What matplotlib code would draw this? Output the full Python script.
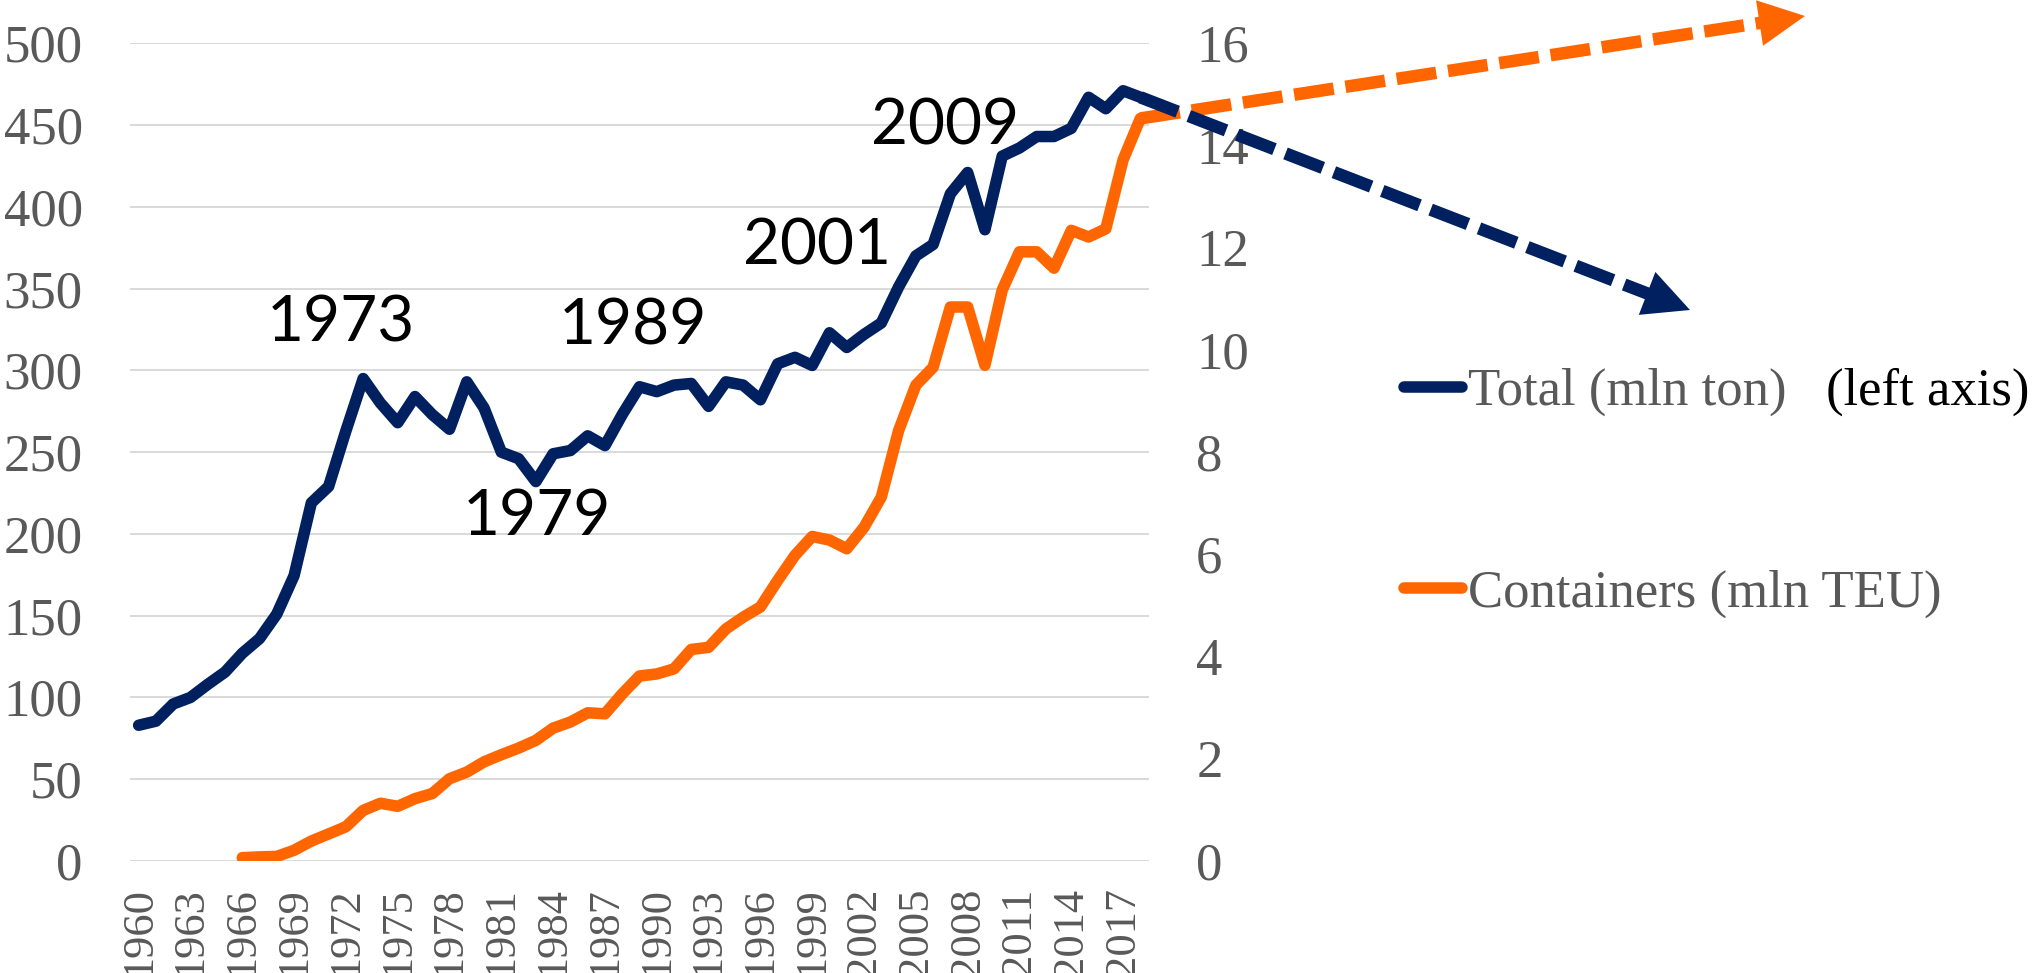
import numpy as np
import matplotlib
matplotlib.use("Agg")
import matplotlib.pyplot as plt
from matplotlib.lines import Line2D
from matplotlib.patches import Polygon
from matplotlib.transforms import IdentityTransform

# ---------------- data ----------------
years_total = list(range(1960, 2019))
total_mln_ton = [83, 85.5, 96, 100, 108, 115.5, 127, 136, 151, 174.5,
                 219, 229, 263, 295, 280, 268, 284, 273, 264, 293,
                 277, 250, 246, 232, 249, 251, 260, 254, 273, 290,
                 287, 291, 292, 278, 293, 291, 282, 304, 308, 303,
                 323, 314, 322, 329, 351, 370, 377, 408, 421, 386,
                 431, 436, 443, 443, 448, 467, 460, 471, 467]

years_cont = list(range(1966, 2019))
containers_mln_teu = [0.065, 0.08, 0.09, 0.21, 0.39, 0.53, 0.67, 0.99, 1.13, 1.07,
                      1.22, 1.32, 1.61, 1.74, 1.94, 2.08, 2.21, 2.36, 2.60, 2.72,
                      2.90, 2.88, 3.27, 3.62, 3.66, 3.76, 4.14, 4.18, 4.54, 4.77,
                      4.97, 5.49, 5.98, 6.35, 6.28, 6.11, 6.53, 7.12, 8.42, 9.31,
                      9.66, 10.84, 10.84, 9.70, 11.17, 11.92, 11.92, 11.60, 12.34, 12.21,
                      12.37, 13.72, 14.53]

xtick_years = list(range(1960, 2018, 3))
left_ticks = list(range(0, 501, 50))
right_ticks = list(range(0, 17, 2))

event_labels = ["1973", "1979", "1989", "2001", "2009"]

series_labels = ["Total (mln ton)", "Containers (mln TEU)"]
extra_label = "(left axis)"

# ---------------- style ----------------
NAVY = "#002060"
ORANGE = "#FF6600"
GRAY = "#595959"
GRID = "#D9D9D9"
SERIF = "Liberation Serif"
SANS = "Lato"

W, H, DPI = 2036, 973, 100
fig = plt.figure(figsize=(W / DPI, H / DPI), dpi=DPI)
fig.patch.set_facecolor("white")

# axes placement in pixels
L, R, T, B = 130, 1149, 43.3, 861
ax = fig.add_axes([L / W, (H - B) / H, (R - L) / W, (B - T) / H])
ax2 = ax.twinx()

ax.set_xlim(1959.5, 2018.5)
ax.set_ylim(0, 500)
ax2.set_ylim(0, 16)

lw = 8.3
ax.plot(years_total, total_mln_ton, color=NAVY, lw=lw,
        solid_capstyle="round", solid_joinstyle="round", zorder=3)
ax2.plot(years_cont, containers_mln_teu, color=ORANGE, lw=lw,
         solid_capstyle="round", solid_joinstyle="round", zorder=3)

# grid
ax.set_yticks(left_ticks)
ax.yaxis.grid(True, color=GRID, lw=1.4)
ax.set_axisbelow(True)
ax2.set_yticks(right_ticks)

for a in (ax, ax2):
    for s in a.spines.values():
        s.set_visible(False)

ax.set_xticks(xtick_years)
ax.set_xticklabels([str(y) for y in xtick_years], rotation=90,
                   fontfamily=SERIF, fontsize=32, color=GRAY)
ax.tick_params(axis="x", length=0, pad=19)
ax.tick_params(axis="y", length=0, pad=34, labelsize=38, labelcolor=GRAY)
ax2.tick_params(axis="y", length=0, pad=34, labelsize=38, labelcolor=GRAY)
for lab in ax.get_yticklabels() + ax2.get_yticklabels():
    lab.set_fontfamily(SERIF)

# event annotations (label positions in data units of left axis)
event_pos = [(1971.72, 317.5), (1983.07, 199.4), (1988.6, 315.7),
             (1999.28, 364.6), (2006.7, 438.0)]
for txt, (xx, yy) in zip(event_labels, event_pos):
    ax.text(xx, yy, txt, ha="center", va="baseline", fontfamily=SANS,
            fontsize=46, color="black", zorder=4)

# ---------------- dashed trend arrows ----------------
fig.canvas.draw()
def add_arrow(start_disp, tip_disp, color):
    sx, sy = start_disp
    tx, ty = tip_disp
    d = np.array([tx - sx, ty - sy], dtype=float)
    n = d / np.hypot(*d)
    p = np.array([-n[1], n[0]])
    head_len, half_w = 46, 23
    base = np.array([tx, ty]) - head_len * n
    line = Line2D([sx, base[0] + 2 * n[0]], [sy, base[1] + 2 * n[1]],
                  color=color, lw=9, linestyle=(0, (3.2, 0.95)),
                  dash_capstyle="butt", transform=IdentityTransform())
    fig.add_artist(line)
    head = Polygon([[tx, ty], base + half_w * p, base - half_w * p],
                   closed=True, facecolor=color, edgecolor=color, lw=0,
                   transform=IdentityTransform())
    fig.add_artist(head)

navy_start = ax.transData.transform((years_total[-1], total_mln_ton[-1]))
orange_start = ax2.transData.transform((years_cont[-1], containers_mln_teu[-1]))
add_arrow(orange_start, (1805, H - 16), ORANGE)
add_arrow(navy_start, (1690, H - 310), NAVY)

# ---------------- legend ----------------
handles = [Line2D([0], [0], color=NAVY, lw=lw, solid_capstyle="round"),
           Line2D([0], [0], color=ORANGE, lw=lw, solid_capstyle="round")]
leg = fig.legend(handles, series_labels, loc="upper left",
                 bbox_to_anchor=(1404 / W, (H - 368) / H),
                 bbox_transform=fig.transFigure, frameon=False,
                 prop={"family": SERIF, "size": 38}, labelcolor=GRAY,
                 handlelength=1.1, handletextpad=0.12, labelspacing=2.9,
                 borderpad=0, borderaxespad=0)
fig.text(1826 / W, (H - 405) / H, extra_label, fontfamily=SERIF, fontsize=38,
         color="black", ha="left", va="baseline")

fig.savefig("out.png", dpi=DPI, facecolor="white")
